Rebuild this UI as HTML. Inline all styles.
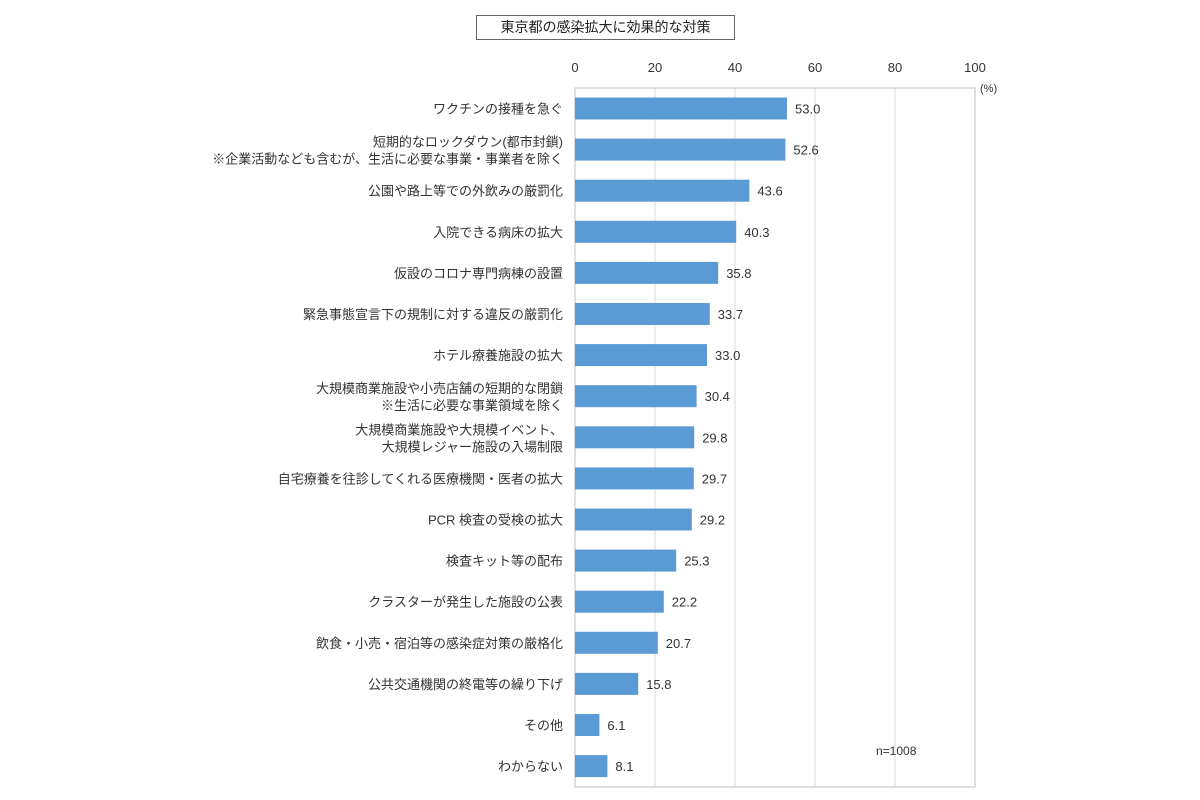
<!DOCTYPE html>
<html><head><meta charset="utf-8"><style>
html,body{margin:0;padding:0;background:#fff;}
body{width:1200px;height:800px;position:relative;overflow:hidden;font-family:"Liberation Sans","Noto Sans CJK JP",sans-serif;color:#333;}
</style></head><body>
<div style="position:absolute;left:476px;top:15px;width:259px;height:25px;border:1px solid #666;box-sizing:border-box;font-size:14px;text-align:center;line-height:23px;color:#222;">東京都の感染拡大に効果的な対策</div>
<svg width="1200" height="800" style="position:absolute;left:0;top:0" font-family="Liberation Sans, Noto Sans CJK JP, sans-serif" font-size="13" fill="#333">
<g stroke="#d9d9d9" stroke-width="1">
<line x1="655" y1="88" x2="655" y2="787"/>
<line x1="735" y1="88" x2="735" y2="787"/>
<line x1="815" y1="88" x2="815" y2="787"/>
<line x1="895" y1="88" x2="895" y2="787"/>
</g>
<rect x="575" y="88" width="400" height="699" fill="none" stroke="#bfbfbf"/>
<g text-anchor="middle" font-size="13">
<text x="575" y="72">0</text><text x="655" y="72">20</text><text x="735" y="72">40</text><text x="815" y="72">60</text><text x="895" y="72">80</text><text x="975" y="72">100</text>
</g>
<text x="980" y="92" font-size="11">(%)</text>
<text x="876" y="755" font-size="12">n=1008</text>
<g id="bars"></g>
</svg>
<script>
var d=[["ワクチンの接種を急ぐ",53.0],["短期的なロックダウン(都市封鎖)|※企業活動なども含むが、生活に必要な事業・事業者を除く",52.6],["公園や路上等での外飲みの厳罰化",43.6],["入院できる病床の拡大",40.3],["仮設のコロナ専門病棟の設置",35.8],["緊急事態宣言下の規制に対する違反の厳罰化",33.7],["ホテル療養施設の拡大",33.0],["大規模商業施設や小売店舗の短期的な閉鎖|※生活に必要な事業領域を除く",30.4],["大規模商業施設や大規模イベント、|大規模レジャー施設の入場制限",29.8],["自宅療養を往診してくれる医療機関・医者の拡大",29.7],["PCR 検査の受検の拡大",29.2],["検査キット等の配布",25.3],["クラスターが発生した施設の公表",22.2],["飲食・小売・宿泊等の感染症対策の厳格化",20.7],["公共交通機関の終電等の繰り下げ",15.8],["その他",6.1],["わからない",8.1]];
var g=document.getElementById('bars'),s='';
for(var i=0;i<d.length;i++){var c=88+41.1*i+20.5,w=d[i][1]*4;
s+='<rect x="575" y="'+(c-11)+'" width="'+w+'" height="22" fill="#5b9bd5"/>';
s+='<text x="'+(583+w)+'" y="'+(c+5)+'">'+d[i][1].toFixed(1)+'</text>';
var L=d[i][0].split('|');
if(L.length==1)s+='<text x="563" y="'+(c+5)+'" text-anchor="end">'+L[0]+'</text>';
else{s+='<text x="563" y="'+(c-3)+'" text-anchor="end">'+L[0]+'</text><text x="563" y="'+(c+14)+'" text-anchor="end">'+L[1]+'</text>';}
}
g.innerHTML=s;
</script>
</body></html>
